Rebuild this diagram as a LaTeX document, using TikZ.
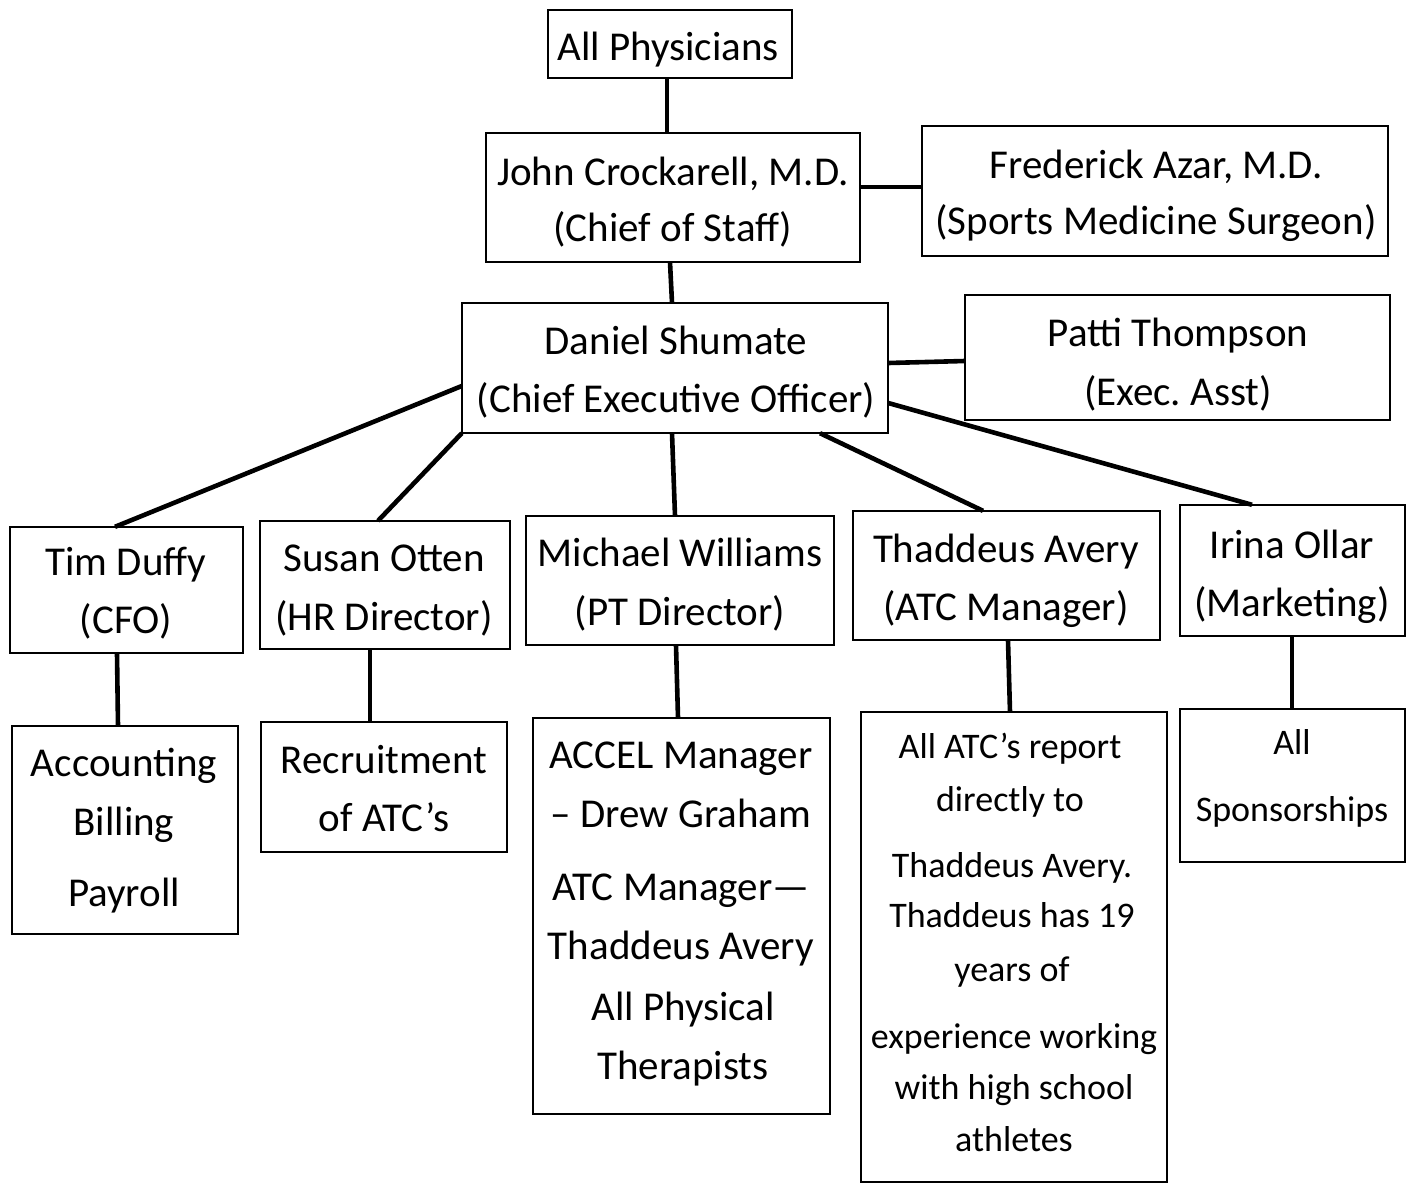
\documentclass[tikz,border=0pt]{standalone}
\usepackage{fontspec}
\setmainfont{Carlito}
\frenchspacing
\begin{document}
\begin{tikzpicture}[x=1pt,y=-1pt,
  box/.style={draw=black,line width=2.3pt},
  conn/.style={draw=black,line width=4.6pt},
  tx/.style={inner sep=0pt,text height=26pt,text depth=0pt,anchor=center,font=\fontsize{41}{48}\selectfont},
  ts/.style={inner sep=0pt,text height=23pt,text depth=0pt,anchor=center,font=\fontsize{36}{42}\selectfont}]
\useasboundingbox (0,0) rectangle (1411,1184);
\fill[white] (0,0) rectangle (1411,1184);
% boxes
\node[inner sep=0pt,minimum width=244pt,minimum height=68pt] (ap) at (670,44) {};
\node[inner sep=0pt,minimum width=374pt,minimum height=129pt] (jc) at (673,197.5) {};
\node[inner sep=0pt,minimum width=466pt,minimum height=130pt] (fa) at (1155,191) {};
\node[inner sep=0pt,minimum width=426pt,minimum height=130pt] (ds) at (675,368) {};
\node[inner sep=0pt,minimum width=425pt,minimum height=125pt] (pt) at (1177.5,357.5) {};
\node[inner sep=0pt,minimum width=233pt,minimum height=126pt] (td) at (126.5,590) {};
\node[inner sep=0pt,minimum width=250pt,minimum height=128pt] (so) at (385,585) {};
\node[inner sep=0pt,minimum width=308pt,minimum height=129pt] (mw) at (680,580.5) {};
\node[inner sep=0pt,minimum width=307pt,minimum height=129pt] (ta) at (1006.5,575.5) {};
\node[inner sep=0pt,minimum width=225pt,minimum height=131pt] (io) at (1292.5,570.5) {};
\node[inner sep=0pt,minimum width=226pt,minimum height=208pt] (ac) at (125,830) {};
\node[inner sep=0pt,minimum width=246pt,minimum height=130pt] (re) at (384,787) {};
\node[inner sep=0pt,minimum width=297pt,minimum height=396pt] (am) at (681.5,916) {};
\node[inner sep=0pt,minimum width=306pt,minimum height=470pt] (at) at (1014,947) {};
\node[inner sep=0pt,minimum width=225pt,minimum height=153pt] (sp) at (1292.5,785.5) {};
\foreach \n in {ap,jc,fa,ds,pt,td,so,mw,ta,io,ac,re,am,at,sp}
  \draw[box] (\n.north west) rectangle (\n.south east);
% texts
\node[tx] (t1) at (668,47) {All Physicians};
\node[tx] (t2) at (673,172) {John Crockarell, M.D.};
\node[tx] (t3) at (673,228) {(Chief of Staff)};
\node[tx] (t4) at (1156,165) {Frederick Azar, M.D.};
\node[tx] (t5) at (1156,221) {(Sports Medicine Surgeon)};
\node[tx] (t6) at (676,341) {Daniel Shumate};
\node[tx] (t7) at (676,399) {(Chief Executive Officer)};
\node[tx] (t8) at (1178,333) {Patti Thompson};
\node[tx] (t9) at (1178,392) {(Exec. Asst)};
\node[tx] (t10) at (126,562) {Tim Duffy};
\node[tx] (t11) at (126,620) {(CFO)};
\node[tx] (t12) at (384,558) {Susan Otten};
\node[tx] (t13) at (384,617) {(HR Director)};
\node[tx] (t14) at (680,553) {Michael Williams};
\node[tx] (t15) at (680,612) {(PT Director)};
\node[tx] (t16) at (1006,549) {Thaddeus Avery};
\node[tx] (t17) at (1006,607) {(ATC Manager)};
\node[tx] (t18) at (1292,545) {Irina Ollar};
\node[tx] (t19) at (1292,603) {(Marketing)};
\node[tx] (t20) at (124,763) {Accounting};
\node[tx] (t21) at (124,822) {Billing};
\node[tx] (t22) at (124,893) {Payroll};
\node[tx] (t23) at (384,760) {Recruitment};
\node[tx] (t24) at (384,818) {of ATC’s};
\node[tx] (t25) at (681,755) {ACCEL Manager};
\node[tx] (t26) at (681,814) {– Drew Graham};
\node[tx] (t27) at (681,887) {ATC Manager—};
\node[tx] (t28) at (681,946) {Thaddeus Avery};
\node[tx] (t29) at (683,1007) {All Physical};
\node[tx] (t30) at (683,1066) {Therapists};
\node[ts] (t31) at (1010,747) {All ATC’s report};
\node[ts] (t32) at (1010,800) {directly to};
\node[ts] (t33) at (1012,866) {Thaddeus Avery.};
\node[ts] (t34) at (1012,916) {Thaddeus has 19};
\node[ts] (t35) at (1012,970) {years of};
\node[ts] (t36) at (1014,1037) {experience working};
\node[ts] (t37) at (1014,1088) {with high school};
\node[ts] (t38) at (1014,1140) {athletes};
\node[ts] (t39) at (1292,743) {All};
\node[ts] (t40) at (1292,810) {Sponsorships};
% connectors
\draw[conn] (ap.south -| 667,0) -- (jc.north -| 667,0);
\draw[conn] (jc.east |- 0,187) -- (fa.west |- 0,187);
\draw[conn] (jc.south -| 670,0) -- (ds.north -| 672,0);
\draw[conn] (ds.east |- 0,363) -- (pt.west |- 0,361);
\draw[conn] (ds.west |- 0,386) -- (td.north -| 115,0);
\draw[conn] (ds.south west) -- (so.north -| 378,0);
\draw[conn] (ds.south -| 672,0) -- (mw.north -| 675,0);
\draw[conn] (ds.south -| 820,0) -- (ta.north -| 983,0);
\draw[conn] (ds.east |- 0,403) -- (io.north -| 1252,0);
\draw[conn] (td.south -| 117,0) -- (ac.north -| 118,0);
\draw[conn] (so.south -| 370,0) -- (re.north -| 370,0);
\draw[conn] (mw.south -| 676,0) -- (am.north -| 678,0);
\draw[conn] (ta.south -| 1008,0) -- (at.north -| 1010,0);
\draw[conn] (io.south -| 1292,0) -- (sp.north -| 1292,0);
\end{tikzpicture}
\end{document}
